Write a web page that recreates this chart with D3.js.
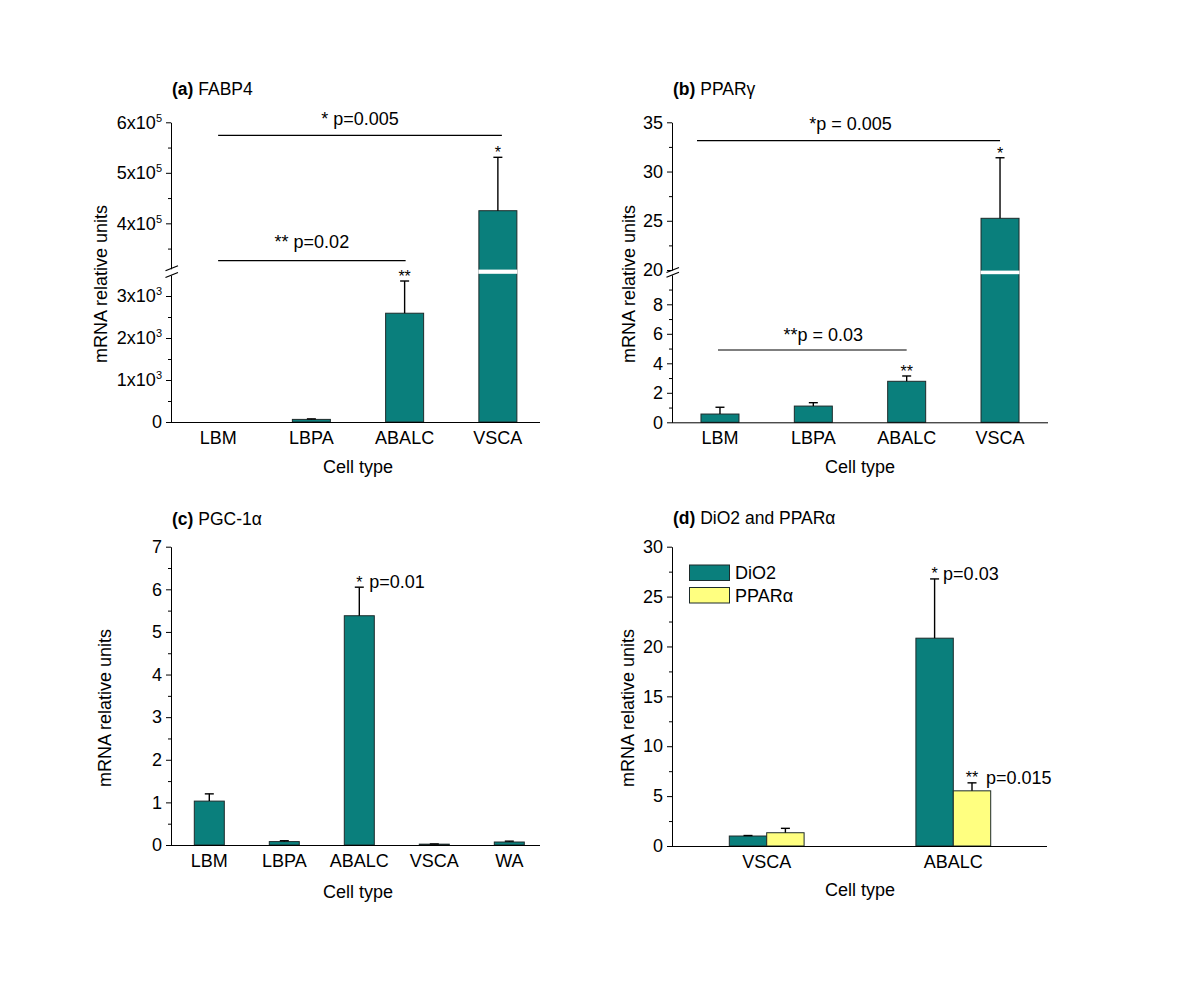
<!DOCTYPE html>
<html><head><meta charset="utf-8">
<script src="https://cdn.jsdelivr.net/npm/d3@7"></script>
<style>
body{margin:0;background:#fff}
text{font-family:Arial,"Liberation Sans",Helvetica,sans-serif;fill:#000}
</style>
</head><body>
<svg id="chart" width="1200" height="990"></svg>
<script>
// ---------------- DATA ----------------
const fabpCats = ["LBM","LBPA","ABALC","VSCA"];
const fabpMean = [0, 62, 2590, 425000];
const fabpSD   = [0, 12, 767, 105700];
const fabpTicksLow  = [0, 1000, 2000, 3000];
const fabpMinorLow  = [500, 1500, 2500];
const fabpTicksHigh = [400000, 500000, 600000];
const fabpMinorHigh = [350000, 450000, 550000];

const ppargCats = ["LBM","LBPA","ABALC","VSCA"];
const ppargMean = [0.56, 1.10, 2.78, 25.25];
const ppargSD   = [0.46, 0.23, 0.36, 6.15];
const ppargTicksLow  = [0, 2, 4, 6, 8];
const ppargMinorLow  = [1, 3, 5, 7, 9];
const ppargTicksHigh = [20, 25, 30, 35];
const ppargMinorHigh = [22.5, 27.5, 32.5];

const pgcCats = ["LBM","LBPA","ABALC","VSCA","WA"];
const pgcMean = [1.03, 0.08, 5.38, 0.02, 0.07];
const pgcSD   = [0.17, 0.02, 0.67, 0.005, 0.02];
const pgcTicks = [0, 1, 2, 3, 4, 5, 6, 7];
const pgcMinor = [0.5, 1.5, 2.5, 3.5, 4.5, 5.5, 6.5];

const dioCats = ["VSCA","ABALC"];
const dioSeries = ["DiO2","PPARα"];
const dio2Mean  = [1.0, 20.83];
const dio2SD    = [0.05, 5.94];
const pparaMean = [1.33, 5.53];
const pparaSD   = [0.44, 0.80];
const dioTicks = [0, 5, 10, 15, 20, 25, 30];
const dioMinor = [2.5, 7.5, 12.5, 17.5, 22.5, 27.5];

// ---------------- STYLE ----------------
const TEAL = "#0a7f7c", YELLOW = "#ffff80", EDGE = "#1d2b2b";
const FS = 18;

const svg = d3.select("#chart");
svg.append("rect").attr("width",1200).attr("height",990).attr("fill","#fff");

function styleAxis(sel){
  sel.selectAll("path,line").attr("stroke","#000").attr("stroke-width",1);
  sel.selectAll("text").attr("font-size",FS).attr("fill","#000")
     .attr("font-family",'Arial,"Liberation Sans",sans-serif');
  sel.attr("font-size",null).attr("font-family",null);
}

function yAxis(g, x, scale, major, minor, fmt){
  const a = g.append("g").attr("transform",`translate(${x},0)`)
    .call(d3.axisLeft(scale).tickValues(major).tickSize(5).tickSizeOuter(0).tickPadding(4).tickFormat(fmt || (d=>d)));
  styleAxis(a);
  const m = g.append("g").attr("transform",`translate(${x},0)`)
    .call(d3.axisLeft(scale).tickValues(minor).tickSize(3).tickFormat(""));
  m.select(".domain").remove();
  styleAxis(m);
  return a;
}

function supLabels(a){
  a.selectAll(".tick text").each(function(d){
    if (d === 0) return;
    const e = Math.floor(Math.log10(d) + 1e-9);
    const mant = Math.round(d / Math.pow(10,e));
    const t = d3.select(this); t.text(null);
    t.append("tspan").text(mant + "x10");
    t.append("tspan").attr("dy",-7).attr("font-size",11).text(e);
  });
}

function breakMark(g, x, y){
  g.append("line").attr("x1",x-6).attr("y1",y+2.5).attr("x2",x+6.5).attr("y2",y-2.5)
    .attr("stroke","#000").attr("stroke-width",1.2);
}

function xAxis(g, y0, xStart, xEnd, band){
  const a = g.append("g").attr("transform",`translate(0,${y0})`)
    .call(d3.axisBottom(band).tickSize(0).tickPadding(9));
  a.select(".domain").remove();
  styleAxis(a);
  g.append("line").attr("x1",xStart).attr("x2",xEnd).attr("y1",y0+0.5).attr("y2",y0+0.5)
    .attr("stroke","#000").attr("stroke-width",1);
}

function title(g, x, y, letter, name){
  const t = g.append("text").attr("x",x).attr("y",y).attr("font-size",17.5);
  t.append("tspan").attr("font-weight","bold").text(letter);
  t.append("tspan").text(" " + name);
}

function yLabel(g, x, y){
  g.append("text").attr("transform",`translate(${x},${y}) rotate(-90)`)
    .attr("text-anchor","middle").attr("font-size",FS).text("mRNA relative units");
}
function xLabel(g, x, y){
  g.append("text").attr("x",x).attr("y",y).attr("text-anchor","middle")
    .attr("font-size",FS).text("Cell type");
}

function bars(g, cats, mean, sd, xc, y, w, fill){
  cats.forEach((c,i)=>{
    const cx = xc(c, i);
    g.append("rect").attr("x",cx-w/2).attr("width",w)
      .attr("y",y(mean[i])).attr("height",Math.max(0,y(0)-y(mean[i])))
      .attr("fill",fill).attr("stroke",EDGE).attr("stroke-width",1);
    if (sd[i] > 0){
      const yt = y(mean[i]+sd[i]);
      g.append("line").attr("x1",cx).attr("x2",cx).attr("y1",y(mean[i])).attr("y2",yt)
        .attr("stroke","#000").attr("stroke-width",1.4);
      g.append("line").attr("x1",cx-4.5).attr("x2",cx+4.5).attr("y1",yt).attr("y2",yt)
        .attr("stroke","#000").attr("stroke-width",1.4);
    }
  });
}

function star(g, x, yTop, s){
  g.append("text").attr("x",x).attr("y",yTop+1).attr("text-anchor","middle")
    .attr("font-size",16).text(s);
}

function bracket(g, x1, x2, y, label, ly){
  g.append("line").attr("x1",x1).attr("x2",x2).attr("y1",y).attr("y2",y)
    .attr("stroke","#000").attr("stroke-width",1.2);
  g.append("text").attr("x",(x1+x2)/2 + (ly.dx||0)).attr("y",ly.y).attr("text-anchor","middle")
    .attr("font-size",FS).text(label);
}

// ---------------- PANEL A ----------------
{
  const g = svg.append("g");
  const ax = 171, y0 = 422;
  const yLow  = d3.scaleLinear().domain([0,3500]).range([422,275]);
  const yHigh = d3.scaleLinear().domain([310000,600000]).range([268.8,122.3]);
  const y = d3.scaleLinear().domain([0,3500,310000,600000]).range([422,275,268.8,122.3]);
  const xb = d3.scaleBand().domain(fabpCats).range([171.5,544.5]);
  const xc = c => xb(c) + xb.bandwidth()/2;

  bars(g, fabpCats, fabpMean, fabpSD, xc, y, 38, TEAL);
  g.append("rect").attr("x",xc("VSCA")-19.5).attr("width",39)
    .attr("y",269.6).attr("height",4.2).attr("fill","#fff");

  const aL = yAxis(g, ax, yLow, fabpTicksLow, fabpMinorLow);
  supLabels(aL);
  const aH = yAxis(g, ax, yHigh, fabpTicksHigh, fabpMinorHigh);
  supLabels(aH);
  breakMark(g, ax+0.5, 268.3); breakMark(g, ax+0.5, 275);
  xAxis(g, y0, ax, 540, xb);

  star(g, xc("VSCA"), y(fabpMean[3]+fabpSD[3]), "*");
  star(g, xc("ABALC"), y(fabpMean[2]+fabpSD[2]), "**");
  bracket(g, xc("LBM"), xc("VSCA")+4, 135.3, "* p=0.005", {y:125});
  bracket(g, xc("LBM"), xc("ABALC")+1, 260.7, "** p=0.02", {y:248.3});

  title(g, 172, 95, "(a)", "FABP4");
  yLabel(g, 107, 284);
  xLabel(g, 358, 472.7);
}

// ---------------- PANEL B ----------------
{
  const g = svg.append("g");
  const ax = 672, y0 = 422.3;
  const yLow  = d3.scaleLinear().domain([0,10]).range([422.3,274.8]);
  const yHigh = d3.scaleLinear().domain([20,35]).range([270,122.3]);
  const y = d3.scaleLinear().domain([0,10,20,35]).range([422.3,274.8,270,122.3]);
  const xb = d3.scaleBand().domain(ppargCats).range([673.3,1046.7]);
  const xc = c => xb(c) + xb.bandwidth()/2;

  bars(g, ppargCats, ppargMean, ppargSD, xc, y, 38, TEAL);
  g.append("rect").attr("x",xc("VSCA")-19.5).attr("width",39)
    .attr("y",270.6).attr("height",3.6).attr("fill","#fff");

  yAxis(g, ax, yLow, ppargTicksLow, ppargMinorLow);
  yAxis(g, ax, yHigh, ppargTicksHigh, ppargMinorHigh);
  breakMark(g, ax+0.5, 270); breakMark(g, ax+0.5, 274.8);
  xAxis(g, y0, ax, 1048, xb);

  star(g, xc("VSCA"), y(ppargMean[3]+ppargSD[3]), "*");
  star(g, xc("ABALC"), y(ppargMean[2]+ppargSD[2]), "**");
  bracket(g, 697, xc("VSCA"), 140.7, "*p = 0.005", {y:130, dx:2});
  bracket(g, 718, xc("ABALC"), 350, "**p = 0.03", {y:340.7, dx:11});

  title(g, 673, 95, "(b)", "PPARγ");
  yLabel(g, 635, 284);
  xLabel(g, 860, 472.7);
}

// ---------------- PANEL C ----------------
{
  const g = svg.append("g");
  const ax = 171, y0 = 845;
  const y = d3.scaleLinear().domain([0,7]).range([845,546.7]);
  const xb = d3.scaleBand().domain(pgcCats).range([171.8,546.8]);
  const xc = c => xb(c) + xb.bandwidth()/2;

  bars(g, pgcCats, pgcMean, pgcSD, xc, y, 30, TEAL);
  yAxis(g, ax, y, pgcTicks, pgcMinor);
  xAxis(g, y0, ax, 540, xb);

  const yt = y(pgcMean[2]+pgcSD[2]);
  star(g, xc("ABALC"), yt, "*");
  g.append("text").attr("x",xc("ABALC")+10).attr("y",588).attr("font-size",FS).text("p=0.01");

  title(g, 172, 525, "(c)", "PGC-1α");
  yLabel(g, 111, 708);
  xLabel(g, 358, 898);
}

// ---------------- PANEL D ----------------
{
  const g = svg.append("g");
  const ax = 672, y0 = 846;
  const y = d3.scaleLinear().domain([0,30]).range([846,546.7]);
  const xb = d3.scaleBand().domain(dioCats).range([673.4,1046.6]);
  const xs = d3.scaleBand().domain(dioSeries).range([-37.4,37.4]);
  const bw = xs.bandwidth();
  const cols = [TEAL, YELLOW];
  const means = [dio2Mean, pparaMean], sds = [dio2SD, pparaSD];

  dioSeries.forEach((s,k)=>{
    const xc = c => xb(c) + xb.bandwidth()/2 + xs(s) + bw/2;
    bars(g, dioCats, means[k], sds[k], xc, y, bw, cols[k]);
  });
  yAxis(g, ax, y, dioTicks, dioMinor);
  xAxis(g, y0, ax, 1047, xb);

  const cA = xb("ABALC") + xb.bandwidth()/2;
  const x1 = cA + xs("DiO2") + bw/2, x2 = cA + xs("PPARα") + bw/2;
  star(g, x1, y(dio2Mean[1]+dio2SD[1]) - 1, "*");
  g.append("text").attr("x",x1+8.5).attr("y",580).attr("font-size",FS).text("p=0.03");
  star(g, x2, y(pparaMean[1]+pparaSD[1]) - 1, "**");
  g.append("text").attr("x",x2+14).attr("y",784).attr("font-size",FS).text("p=0.015");

  const lg = g.append("g");
  dioSeries.forEach((s,k)=>{
    lg.append("rect").attr("x",689.5).attr("y",565+k*22.5).attr("width",40).attr("height",15.5)
      .attr("fill",cols[k]).attr("stroke",EDGE).attr("stroke-width",1);
    lg.append("text").attr("x",735).attr("y",579+k*23).attr("font-size",FS).text(s);
  });

  title(g, 673, 524, "(d)", "DiO2 and PPARα");
  yLabel(g, 634, 708);
  xLabel(g, 860, 896);
}
</script>
</body></html>
